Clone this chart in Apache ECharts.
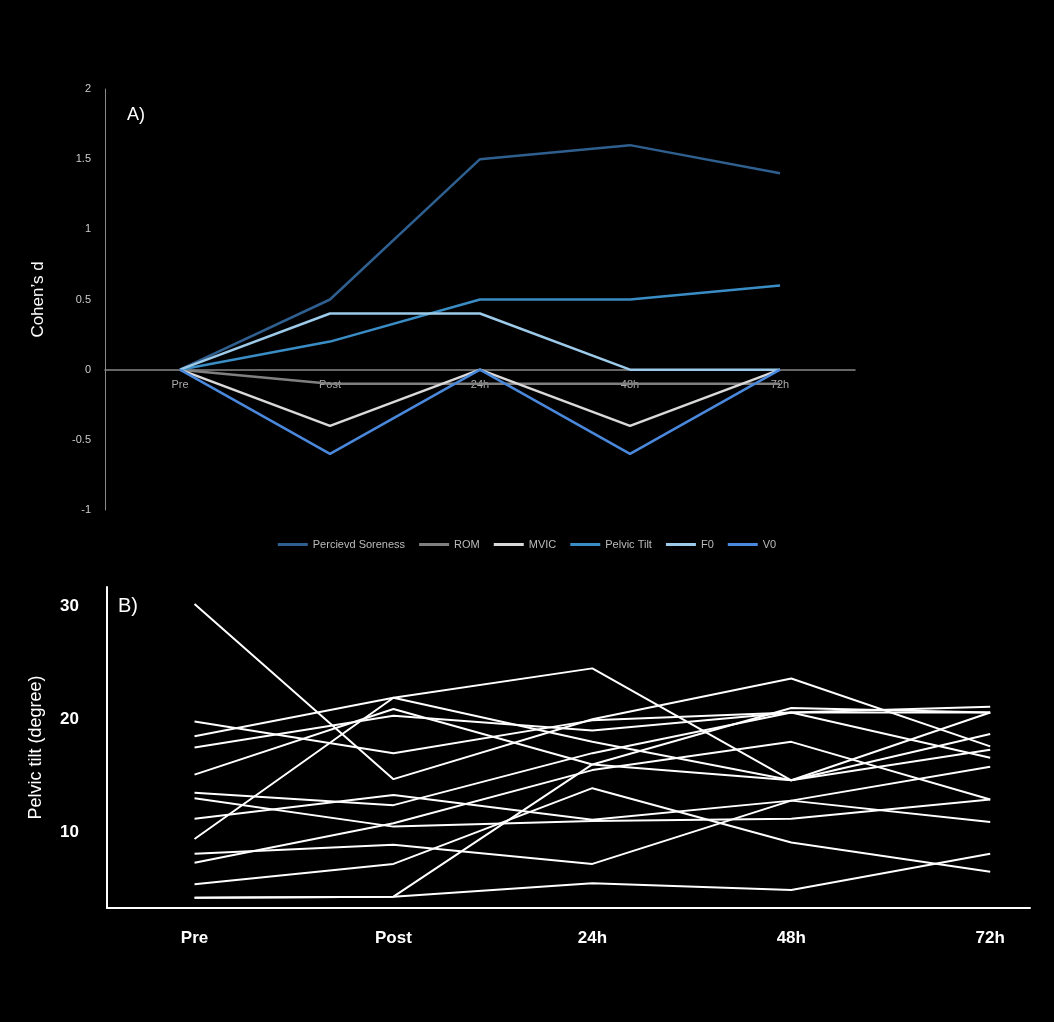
<!DOCTYPE html>
<html><head><meta charset="utf-8">
<script src="https://cdn.jsdelivr.net/npm/echarts@6/dist/echarts.min.js"></script>
<style>html,body{margin:0;background:#000}#c{width:1054px;height:1022px}</style>
</head><body><div id="c"></div>
<script>
const timepoints = ['Pre','Post','24h','48h','72h'];
const cohenNames = ['Percievd Soreness','ROM','MVIC','Pelvic Tilt','F0','V0'];
const soreness = [0, 0.5, 1.5, 1.6, 1.4];
const rom = [0, -0.1, -0.1, -0.1, -0.1];
const mvic = [0, -0.4, 0, -0.4, 0];
const pelvicTilt = [0, 0.2, 0.5, 0.5, 0.6];
const f0 = [0, 0.4, 0.4, 0, 0];
const v0 = [0, -0.6, 0, -0.6, 0];
const cohenColors = ['#2F5F8F','#808080','#d9d9d9','#3A8CC4','#9CCAE8','#4A88DC'];
const individuals = [
  [30.2, 14.7, 20.0, 23.6, 17.6],
  [19.8, 17.0, 19.9, 20.6, 21.1],
  [18.5, 21.9, 18.0, 14.6, 17.3],
  [17.5, 20.3, 19.0, 20.6, 16.6],
  [15.1, 20.9, 16.0, 14.6, 20.6],
  [13.5, 12.4, 17.0, 20.6, 20.6],
  [13.0, 10.5, 11.0, 11.2, 12.9],
  [11.2, 13.3, 11.1, 12.8, 10.9],
  [9.4, 21.9, 24.5, 14.6, 18.7],
  [8.1, 8.9, 7.2, 12.8, 15.8],
  [7.3, 10.8, 15.5, 18.0, 12.9],
  [5.4, 7.2, 13.9, 9.1, 6.5],
  [4.2, 4.3, 5.5, 4.9, 8.1],
  [4.2, 4.3, 16.0, 21.0, 20.6]
];
const pelvicTicks = [10, 20, 30];
const cohenSeries = [soreness, rom, mvic, pelvicTilt, f0, v0];
const series = cohenSeries.map((d,i)=>({
  name: cohenNames[i], type:'line', xAxisIndex:0, yAxisIndex:0, data:d,
  symbol:'none', lineStyle:{width:2.5,color:cohenColors[i]}, itemStyle:{color:cohenColors[i]}, z: i===5?5:3
}));
individuals.forEach(d=>series.push({
  type:'line', xAxisIndex:1, yAxisIndex:1, data:d.map((v,i)=>[i,v]),
  symbol:'none', lineStyle:{width:2,color:'#ffffff'}, silent:true
}));
const chart = echarts.init(document.getElementById('c'));
chart.setOption({
  backgroundColor:'#000',
  animation:false,
  grid:[
    {left:105, top:89, width:750, height:421},
    {left:107, top:587, width:923, height:321},
    {left:105, top:89, width:750, height:281}
  ],
  legend:{data:cohenNames, top:534, left:'center', itemWidth:30, itemHeight:3, icon:'rect', itemGap:14,
    textStyle:{color:'#bbb', fontSize:11, fontFamily:'Liberation Sans Narrow, Liberation Sans, sans-serif'}},
  xAxis:[
    {type:'category', gridIndex:0, data:timepoints, boundaryGap:true,
     axisLine:{onZero:true, lineStyle:{color:'#888',width:1.5}}, axisTick:{show:false},
     axisLabel:{show:false}},
    {type:'value', gridIndex:1, min:-0.44, max:4.2, splitLine:{show:false},
     axisLine:{onZero:false, lineStyle:{color:'#fff',width:2}}, axisTick:{show:false},
     axisLabel:{customValues:[0,1,2,3,4], color:'#fff', fontSize:17, fontWeight:'bold', margin:22,
       fontFamily:'Liberation Sans, Arial, sans-serif', formatter:v=>timepoints[Math.round(v)]}},
    {type:'category', gridIndex:2, data:timepoints, boundaryGap:true,
     axisLine:{show:false}, axisTick:{show:false},
     axisLabel:{color:'#aaa', fontSize:11, margin:9, fontFamily:'Liberation Sans Narrow, Liberation Sans, sans-serif'}}
  ],
  yAxis:[
    {type:'value', gridIndex:0, min:-1, max:2, interval:0.5, splitLine:{show:false},
     axisLine:{show:true, lineStyle:{color:'#888'}}, axisTick:{show:false},
     axisLabel:{color:'#ccc', fontSize:11, margin:14, fontFamily:'Liberation Sans, sans-serif'},
     name:'Cohen’s d', nameLocation:'middle', nameGap:58, nameRotate:90,
     nameTextStyle:{color:'#fff', fontSize:17, fontFamily:'Liberation Sans, sans-serif'}},
    {type:'value', gridIndex:1, min:3.3, max:31.7, splitLine:{show:false},
     axisLine:{show:true, onZero:false, lineStyle:{color:'#fff',width:2}}, axisTick:{show:false},
     axisLabel:{customValues:pelvicTicks, color:'#fff', fontSize:17, fontWeight:'bold', margin:28,
       fontFamily:'Liberation Sans, Arial, sans-serif'},
     name:'Pelvic tilt (degree)', nameLocation:'middle', nameGap:62, nameRotate:90,
     nameTextStyle:{color:'#fff', fontSize:18, fontFamily:'Liberation Sans, sans-serif'}},
    {type:'value', gridIndex:2, show:false, min:0, max:1}
  ],
  graphic:[
    {type:'text', left:127, top:106, style:{text:'A)', fill:'#fff', fontSize:18, fontFamily:'Liberation Sans, sans-serif'}},
    {type:'text', left:118, top:596, style:{text:'B)', fill:'#fff', fontSize:20, fontFamily:'Liberation Sans, sans-serif'}}
  ],
  series
});
</script></body></html>
